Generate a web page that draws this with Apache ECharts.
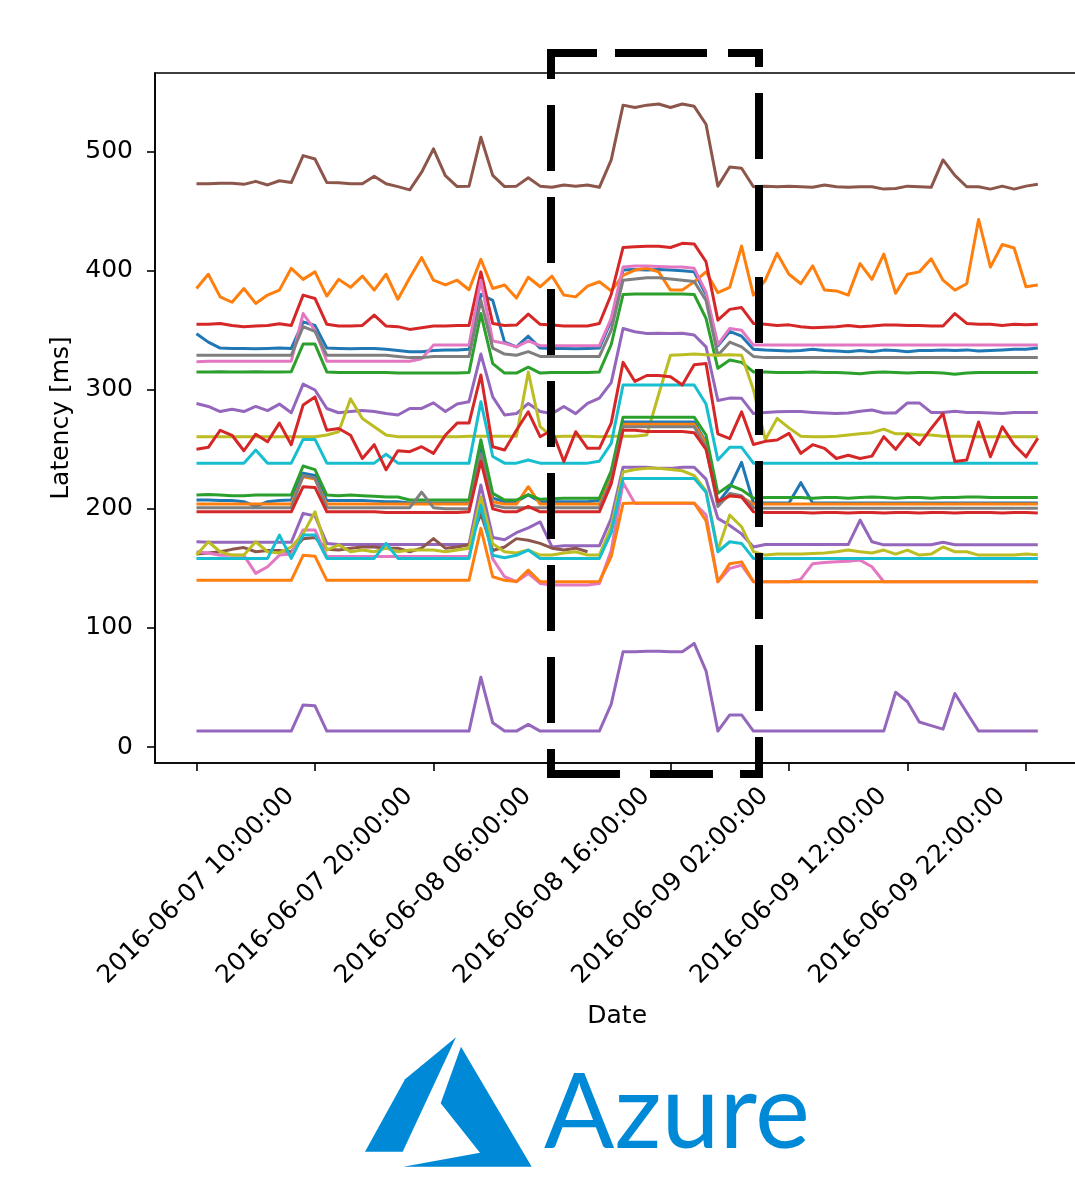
<!DOCTYPE html>
<html>
<head>
<meta charset="utf-8">
<title>Latency</title>
<script src="https://cdn.jsdelivr.net/npm/echarts@6/dist/echarts.min.js"></script>
<style>
  html, body { margin: 0; padding: 0; background: #ffffff; }
  #chart { width: 1075px; height: 1190px; }
</style>
</head>
<body>
<div id="chart"></div>
<script>
// Hourly latency samples, one value per hour starting 2016-06-07 10:00 (index 0).
const tickHours = [0, 10, 20, 30, 40, 50, 60, 70];
const tickLabels = [
  '2016-06-07 10:00:00', '2016-06-07 20:00:00', '2016-06-08 06:00:00',
  '2016-06-08 16:00:00', '2016-06-09 02:00:00', '2016-06-09 12:00:00',
  '2016-06-09 22:00:00'
];
const yTicks = [0, 100, 200, 300, 400, 500];

const blueUpper = [
  347, 340, 335, 334.7, 334.7, 334.5, 334.7, 335, 334.7, 357,
  354, 335, 334.7, 334.5, 334.7, 334.7, 334, 333, 332, 332,
  333, 333.3, 333.3, 334, 380, 375, 340, 336, 345, 335,
  334.7, 334.7, 334.5, 334.7, 335, 358, 400.5, 401, 400.5, 401,
  400.5, 400, 399, 380, 337, 349, 345, 334, 333.3, 333,
  332.5, 333, 334, 333, 332.5, 332, 333, 332, 333.3, 333,
  332, 333, 333, 333.3, 333, 333.5, 332.5, 333, 333.5, 334,
  334, 335
];
const orangeUpper = [
  385, 397, 378, 373.5, 385, 372.5, 379.5, 383.7, 402, 392.7,
  399, 378.7, 392.7, 386, 395.5, 383.7, 397, 376, 394, 411,
  392, 388, 392, 384, 409.5, 385, 388, 377, 394.5, 386.5,
  395.5, 379.5, 378, 387, 390.7, 383, 396, 400.5, 402, 399,
  383.7, 383.7, 390.6, 399, 381.5, 386, 420.7, 379.5, 392, 414.5,
  397, 389, 404, 383.7, 383, 379.5, 406, 392.7, 414, 381,
  397, 399, 410, 392, 383.7, 389, 443, 403, 422, 419,
  386.5, 388
];
const greenUpper = [
  315, 315, 315.2, 315, 315, 315.2, 315, 315, 315.2, 338.4,
  338.4, 315, 314.5, 314.5, 314.5, 314.5, 314.5, 314, 314, 314,
  314, 314, 314, 314.5, 364, 322, 314, 314, 319, 314,
  314.5, 314.5, 314.5, 314.5, 315, 338, 380, 380.5, 380.5, 380.5,
  380.5, 380.5, 380, 360, 318, 325, 323, 315, 315, 314.5,
  314.5, 314.5, 315, 314.5, 314.5, 314, 313.5, 314.5, 315, 314.5,
  314, 314.5, 314.5, 314, 313, 314, 314.5, 314.5, 314.5, 314.5,
  314.5, 314.5
];
const redUpper = [
  355, 355, 355.7, 354, 353, 353.5, 354, 355.5, 354, 379.5,
  376.7, 355, 353.5, 353.5, 354, 362.7, 353.5, 353, 350.7, 352,
  353.5, 353.5, 354, 354, 399, 355.7, 354, 354.3, 363.5, 355,
  354.3, 353.5, 353.5, 353.5, 355.7, 380, 419.5, 420, 420.5, 420.5,
  419.5, 423, 422.5, 407.5, 358.5, 367.5, 369, 355.7, 355, 354,
  354.5, 353, 352, 352.5, 353, 354, 353, 353.5, 354.3, 354.3,
  354, 354, 353.5, 353.5, 364, 355.7, 355, 355, 354, 355,
  354.5, 355
];
const purpleUpper = [
  288.5, 286, 281.7, 283.7, 281.7, 286, 282.5, 288, 280.7, 304.8,
  299.8, 284.3, 280.7, 281.7, 282.5, 281.7, 280, 278.8, 284.3, 284.3,
  289, 281.7, 288, 290, 330, 294, 278.8, 280, 288.5, 281.7,
  280, 286, 280, 288.5, 293, 306, 351.5, 348.7, 347.3, 347.5,
  347.3, 347.5, 346, 336, 291, 293, 292.8, 280, 281, 281.5,
  281.7, 281.7, 281, 280.5, 280, 280.5, 282, 283, 280.5, 280.5,
  289, 289, 281, 281, 282, 281, 281, 280.5, 280, 281,
  281, 281
];
const brownTop = [
  473, 473, 473.5, 473.5, 472.5, 475, 472, 475.5, 474, 496.6,
  493.8, 474, 473.8, 473, 473, 479.3, 473, 470.6, 467.9, 482.7,
  502.3, 479.9, 470.6, 470.9, 512, 480, 470.6, 471, 478, 471,
  470, 472, 471, 472, 470, 493, 539, 537, 539, 540,
  537, 540, 538, 523, 471, 487, 486, 470.5, 471, 470.5,
  471, 470.5, 470, 472, 470.5, 470, 470.5, 470.5, 468.5, 469,
  471, 470.5, 470, 493, 480, 470.5, 470.5, 468.5, 471, 468.5,
  471, 472.5
];
const pinkUpper = [
  323.5, 324, 324, 324, 324, 324, 324, 324, 324, 364,
  350, 324, 324, 324, 324, 324, 324, 324, 324, 326,
  337.5, 337.5, 337.5, 337.5, 392, 341, 339, 336, 341, 337,
  337, 337, 337, 337, 337, 360, 403, 404, 404, 403.5,
  403, 403, 402, 382, 338, 351.5, 350, 337.5, 337.5, 337.5,
  337.5, 337.5, 337.5, 337.5, 337.5, 337.5, 337.5, 337.5, 337.5, 337.5,
  337.5, 337.5, 337.5, 337.5, 337.5, 337.5, 337.5, 337.5, 337.5, 337.5,
  337.5, 337.5
];
const grayUpper = [
  329, 329, 329, 329, 329, 329, 329, 329, 329, 353,
  349, 329, 329, 329, 329, 329, 329, 328, 327, 327,
  328, 328, 328, 328, 375, 335, 330, 329, 332, 328,
  328, 328, 328, 328, 328, 350, 392, 393, 394, 394,
  393, 392, 391, 375, 329, 340, 336, 328, 327, 327,
  327, 327, 327, 327, 327, 327, 327, 327, 327, 327,
  327, 327, 327, 327, 327, 327, 327, 327, 327, 327,
  327, 327
];
const oliveUpper = [
  260.6, 260.6, 260.6, 260.6, 260.6, 260.6, 260.6, 260.6, 260.6, 260.6,
  260.6, 262, 264.8, 292.5, 275.8, 269, 262, 260.6, 260.6, 260.6,
  260.6, 260.6, 260.6, 261, 261, 261, 261, 261, 315, 269,
  260.6, 261, 261, 261, 260.6, 261, 261, 261, 262, 296,
  329, 329.5, 330, 329.5, 329, 329.5, 329, 300, 258, 276,
  268, 261, 260.6, 260.6, 261, 262, 263, 264, 267, 263,
  263, 262, 262, 261, 261, 261, 260.6, 260.6, 260.6, 260.6,
  260.6, 260.6
];
const cyanUpper = [
  238.4, 238.4, 238.4, 238.4, 238.4, 249.4, 238.4, 238.4, 238.4, 258.3,
  258.3, 238.4, 238.4, 238.4, 238.4, 238.4, 245.8, 238.4, 238.4, 238.4,
  238.4, 238.4, 238.4, 238.4, 290, 244, 238.4, 238.4, 241, 238.4,
  238.4, 238.4, 238.4, 238.4, 240, 255, 304, 304, 304, 304,
  304, 304, 304, 288, 241, 251.7, 251.7, 238.4, 238.4, 238.4,
  238.4, 238.4, 238.4, 238.4, 238.4, 238.4, 238.4, 238.4, 238.4, 238.4,
  238.4, 238.4, 238.4, 238.4, 238.4, 238.4, 238.4, 238.4, 238.4, 238.4,
  238.4, 238.4
];
const blueLower = [
  207.4, 207.4, 207, 207, 206, 202, 206, 207, 207.4, 230,
  228, 207, 207, 207, 207, 206.5, 206, 206, 205, 205,
  205, 205, 205, 205, 250, 209, 206, 206, 211.6, 206,
  206, 206, 206, 206, 207, 228, 273, 273, 273, 273,
  273, 273, 273, 256, 205, 218, 239, 205, 205, 205,
  205, 222, 205, 205, 205, 205, 205, 205, 205, 205,
  205, 205, 205, 205, 205, 205, 205, 205, 205, 205,
  205, 205
];
const orangeMid = [
  204, 204, 204, 204, 204, 204, 204, 204, 204, 227,
  225, 204, 204, 204, 204, 204, 204, 204, 204, 204,
  204, 204, 204, 204, 244, 206, 204, 204, 218.6, 204,
  204, 204, 204, 204, 204, 226, 271, 271, 271, 271,
  271, 271, 271, 255, 204, 211, 210, 204, 204, 204,
  204, 204, 204, 204, 204, 204, 204, 204, 204, 204,
  204, 204, 204, 204, 204, 204, 204, 204, 204, 204,
  204, 204
];
const greenLower = [
  211.6, 212, 211.6, 211, 211, 211.6, 211.6, 211.6, 211.6, 236,
  233, 211.6, 211, 211.6, 211, 210.5, 210, 210, 207.4, 207.4,
  207.4, 207.4, 207.4, 207.4, 258, 213, 207.4, 207.4, 212, 208,
  208.5, 209, 209, 209, 209, 232, 277, 277, 277, 277,
  277, 277, 277, 262, 213, 220, 216, 209, 209.5, 209.5,
  209.5, 209.5, 209, 209.5, 209.5, 209, 209.5, 210, 209.5, 209,
  209.5, 209.5, 209, 209.5, 209.5, 210, 210, 209.5, 209.5, 209.5,
  209.5, 209.5
];
const redNoisy = [
  250, 251.7, 266, 261.8, 248.8, 262.7, 256.3, 272, 253.9, 287.2,
  294, 266, 267.5, 261.8, 242.3, 253.9, 232.8, 248.8, 248, 252.2,
  246.6, 261.8, 272, 272, 312.4, 252.2, 249.4, 266, 281.5, 260.6,
  266, 239.7, 264.8, 250.8, 250.8, 272, 323, 307, 312, 312,
  311, 304, 321, 322, 263, 259, 281.5, 254, 256.7, 257.8,
  263.4, 246.6, 253.9, 250.8, 242.3, 245, 242.3, 244.3, 260.6, 250,
  262.7, 253.9, 267.5, 280, 239.7, 241, 273, 243.7, 269, 253.9,
  243.7, 259.3
];
const purpleMid = [
  172.4, 172, 172, 172, 172, 172, 172, 172, 172, 196.2,
  194, 171, 170, 170, 170, 170, 170, 170, 170, 170,
  170, 170, 170, 170, 220, 176, 174, 180, 184, 189,
  168, 169, 169, 169, 169, 192, 235, 235, 235, 234,
  234, 235, 235, 225, 192, 186, 179, 168, 170, 170,
  170, 170, 170, 170, 170, 170, 190.6, 172.4, 169.8, 169.8,
  169.8, 169.8, 169.8, 172, 169.8, 169.8, 169.8, 169.8, 169.8, 169.8,
  169.8, 169.8
];
// this host stops reporting after 2016-06-08 19:00
const brownLower = [
  162, 163, 164, 166, 167.5, 164, 165, 165, 164, 175,
  176, 166, 165.4, 167, 168, 168, 167, 167, 164, 167,
  175, 167, 168, 169.8, 196, 165, 168, 175, 173.7, 171,
  167, 165.4, 167, 164
];
const pinkLower = [
  164, 163, 161, 161, 161, 145.8, 151.4, 161.2, 162, 182.3,
  182.3, 160, 160, 160, 160, 160, 160, 160, 160, 160,
  160, 160, 160, 160, 207, 158, 143, 138.8, 145.8, 137.4,
  136, 136, 136, 136, 137.4, 165, 222, 204.6, 204.6, 204.6,
  204.6, 204.6, 204.6, 195, 138.8, 150, 152.7, 138.8, 138.8, 138.8,
  138.8, 141, 154, 155, 155.5, 156, 157, 151.4, 138.8, 138.8,
  138.8, 138.8, 138.8, 138.8, 138.8, 138.8, 138.8, 138.8, 138.8, 138.8,
  138.8, 138.8
];
const grayLower = [
  201, 201, 201, 201, 201, 201, 201, 201, 201, 228,
  226, 201, 201, 201, 201, 201, 201, 201, 201, 214,
  201, 200, 200, 200, 246, 203, 201, 201, 201, 201,
  201, 201, 201, 201, 201, 224, 269, 269, 269, 269,
  269, 269, 269, 252, 202, 213, 211, 201, 200.5, 200.5,
  200.5, 200.5, 200.5, 200.5, 200.5, 200.5, 200.5, 200.5, 200.5, 200.5,
  200.5, 200.5, 200.5, 200.5, 200.5, 200.5, 200.5, 200.5, 200.5, 200.5,
  200.5, 200.5
];
const oliveLower = [
  161.2, 172.4, 164, 161.2, 161.2, 172.4, 164, 163, 168, 179,
  197.6, 165.4, 169.8, 164, 165.4, 164, 167, 164, 165.4, 165.4,
  165.4, 164, 165.4, 167, 210, 170.8, 164, 163, 165.4, 161.2,
  161.2, 163, 164, 161.2, 161.2, 185, 231, 233, 234, 234,
  233, 232, 228, 215, 165.4, 194.8, 185, 164.1, 161.2, 162,
  162, 162, 162.5, 163, 164, 165.4, 164, 163, 165.4, 162,
  165.4, 161.2, 162, 168, 164, 164, 161.2, 161.2, 161.2, 161.2,
  162, 161.5
];
const cyanLower = [
  158.4, 158.4, 158.4, 158.4, 158.4, 158.4, 158.4, 178, 158.4, 178,
  178, 158.4, 158.4, 158.4, 158.4, 158.4, 171, 158.4, 158.4, 158.4,
  158.4, 158.4, 158.4, 158.4, 203, 161, 159, 161, 165.4, 158.4,
  158.4, 158.4, 158.4, 158.4, 158.4, 180, 225.6, 225.6, 225.6, 225.6,
  225.6, 225.6, 225.6, 214, 164, 172.4, 171, 158.4, 158.4, 158.4,
  158.4, 158.4, 158.4, 158.4, 158.4, 158.4, 158.4, 158.4, 158.4, 158.4,
  158.4, 158.4, 158.4, 158.4, 158.4, 158.4, 158.4, 158.4, 158.4, 158.4,
  158.4, 158.4
];
const orangeLower = [
  140, 140, 140, 140, 140, 140, 140, 140, 140, 161,
  160.3, 140, 140, 140, 140, 140, 140, 140, 140, 140,
  140, 140, 140, 140, 183.6, 143, 140, 139, 148.6, 138.8,
  138.8, 138.8, 138.8, 138.8, 139, 160, 204.6, 205, 205, 205,
  205, 205, 205, 190, 138.8, 154, 155.5, 138.8, 138.8, 138.8,
  138.8, 138.8, 138.8, 138.8, 138.8, 138.8, 138.8, 138.8, 138.8, 138.8,
  138.8, 138.8, 138.8, 138.8, 138.8, 138.8, 138.8, 138.8, 138.8, 138.8,
  138.8, 138.8
];
const redLower = [
  197.5, 197.5, 197.5, 197.5, 197.5, 197.5, 197.5, 197.5, 197.5, 218.6,
  218, 197.5, 197.5, 197.5, 197.5, 197.5, 197, 197, 197, 197,
  197, 197, 197, 197.5, 240, 200, 197.5, 197.5, 202, 197.5,
  197.5, 197.5, 197.5, 197.5, 197.5, 221, 266, 266, 265, 265,
  265, 265, 264, 250, 206, 211, 210, 197.6, 197, 197,
  197, 197, 196.5, 197, 197, 196.5, 197, 197, 196.5, 197,
  197, 196.5, 197, 197, 196.5, 197, 197, 197, 196.5, 197,
  197, 196.5
];
const purpleLow = [
  13.4, 13.4, 13.4, 13.4, 13.4, 13.4, 13.4, 13.4, 13.4, 35.4,
  34.6, 13.4, 13.4, 13.4, 13.4, 13.4, 13.4, 13.4, 13.4, 13.4,
  13.4, 13.4, 13.4, 13.4, 58.6, 20.4, 13.4, 13.4, 19, 13.4,
  13.4, 13.4, 13.4, 13.4, 13.4, 36, 80, 80, 80.5, 80.5,
  80, 80, 87, 64, 13.4, 27, 27, 13.4, 13.4, 13.4,
  13.4, 13.4, 13.4, 13.4, 13.4, 13.4, 13.4, 13.4, 13.4, 46,
  38, 21, 18, 15, 45, 29, 13.4, 13.4, 13.4, 13.4,
  13.4, 13.4
];

// matplotlib "tab10" palette
const C = {
  blue: '#1f77b4', orange: '#ff7f0e', green: '#2ca02c', red: '#d62728',
  purple: '#9467bd', brown: '#8c564b', pink: '#e377c2', gray: '#7f7f7f',
  olive: '#bcbd22', cyan: '#17becf'
};

const seriesDefs = [
  [blueUpper, C.blue], [orangeUpper, C.orange], [greenUpper, C.green],
  [redUpper, C.red], [purpleUpper, C.purple], [brownTop, C.brown],
  [pinkUpper, C.pink], [grayUpper, C.gray], [oliveUpper, C.olive],
  [cyanUpper, C.cyan], [blueLower, C.blue], [orangeMid, C.orange],
  [greenLower, C.green], [redNoisy, C.red], [purpleMid, C.purple],
  [brownLower, C.brown], [pinkLower, C.pink], [grayLower, C.gray],
  [oliveLower, C.olive], [cyanLower, C.cyan], [orangeLower, C.orange],
  [redLower, C.red], [purpleLow, C.purple]
];

const FONT = 'DejaVu Sans';
const FONT_SIZE = 25;

const series = seriesDefs.map(([vals, color]) => ({
  type: 'line',
  data: vals.map((v, i) => [i, v]),
  showSymbol: false,
  symbol: 'none',
  silent: true,
  lineStyle: { color: color, width: 3, join: 'round' },
  itemStyle: { color: color },
  animation: false
}));

// Dashed highlight frame around the 2016-06-08 evening incident
const frame = { left: 551, right: 759, top: 53, bottom: 774 };
const frameEdges = [
  { x1: frame.left - 4, y1: frame.top, x2: frame.right + 4, y2: frame.top, dash: [50, 18, 92, 21, 60, 20], off: 0 },
  { x1: frame.left, y1: frame.top - 4, x2: frame.left, y2: frame.bottom + 4, dash: [66, 26], off: 36 },
  { x1: frame.right, y1: frame.top - 4, x2: frame.right, y2: frame.bottom + 4, dash: [66, 26], off: 48 },
  { x1: frame.left - 4, y1: frame.bottom, x2: frame.right + 4, y2: frame.bottom, dash: [73, 30, 63, 27, 60, 20], off: 0 }
].map(e => ({
  type: 'line', z: 100, silent: true,
  shape: { x1: e.x1, y1: e.y1, x2: e.x2, y2: e.y2 },
  style: { stroke: '#000', lineWidth: 8, lineCap: 'butt', lineDash: e.dash, lineDashOffset: e.off }
}));

const AZURE = '#0089d6';
const logo = [
  {
    type: 'polygon', z: 100, silent: true,
    shape: { points: [[365, 1151.7], [405, 1079.3], [456, 1037.3], [402.7, 1151.7]] },
    style: { fill: AZURE }
  },
  {
    type: 'polygon', z: 100, silent: true,
    shape: { points: [[461, 1046.7], [531.7, 1166.7], [403.3, 1166.7], [480, 1152.7], [440.7, 1103.3]] },
    style: { fill: AZURE }
  },
  {
    type: 'text', z: 100, silent: true,
    style: {
      text: 'Azure', x: 544, y: 1114,
      font: '400 104px Lato', fill: AZURE,
      align: 'left', verticalAlign: 'middle'
    }
  }
];

const chart = echarts.init(document.getElementById('chart'), null, { renderer: 'canvas' });
chart.setOption({
  animation: false,
  backgroundColor: '#ffffff',
  grid: {
    left: 155, top: 73, width: 924.3, height: 690,
    outerBoundsMode: 'none', containLabel: false,
    show: true, borderColor: '#000', borderWidth: 1.6, backgroundColor: 'transparent'
  },
  xAxis: {
    type: 'value', min: -3.5, max: 74.5,
    splitLine: { show: false },
    axisLine: { show: true, onZero: false, lineStyle: { color: '#000', width: 1.6 } },
    axisTick: { show: true, customValues: tickHours, length: 8, lineStyle: { color: '#000', width: 1.6 } },
    axisLabel: {
      customValues: tickHours.slice(0, tickLabels.length),
      formatter: v => tickLabels[Math.round(v / 10)] || '',
      rotate: 45, align: 'center', verticalAlign: 'middle', margin: 123,
      fontFamily: FONT, fontSize: FONT_SIZE, color: '#000'
    },
    name: 'Date', nameLocation: 'middle', nameGap: 253,
    nameTextStyle: { fontFamily: FONT, fontSize: FONT_SIZE, color: '#000', verticalAlign: 'middle' }
  },
  yAxis: {
    type: 'value', min: -13.4, max: 566,
    splitLine: { show: false },
    axisLine: { show: true, onZero: false, lineStyle: { color: '#000', width: 1.6 } },
    axisTick: { show: true, customValues: yTicks, length: 8, lineStyle: { color: '#000', width: 1.6 } },
    axisLabel: {
      customValues: yTicks, margin: 22,
      fontFamily: FONT, fontSize: FONT_SIZE, color: '#000'
    },
    name: 'Latency [ms]', nameLocation: 'middle', nameGap: 93,
    nameTextStyle: { fontFamily: FONT, fontSize: FONT_SIZE, color: '#000', verticalAlign: 'middle' }
  },
  series: series,
  graphic: { elements: frameEdges.concat(logo) }
});
</script>
</body>
</html>
